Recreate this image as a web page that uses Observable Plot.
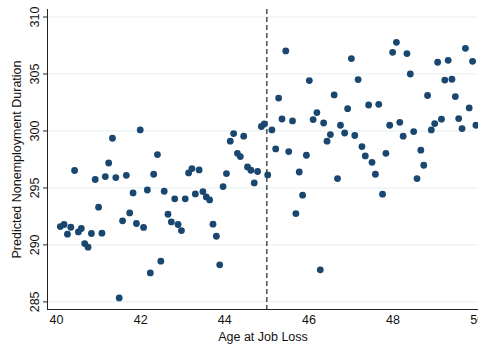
<!DOCTYPE html>
<html>
<head>
<meta charset="utf-8">
<script src="https://cdn.jsdelivr.net/npm/d3@7"></script>
<script src="https://cdn.jsdelivr.net/npm/@observablehq/plot@0.6"></script>
<style>
  html, body { margin: 0; padding: 0; background: #fff; overflow: hidden; }
  #chart { width: 478px; height: 347px; }
</style>
</head>
<body>
<div id="chart"></div>
<script>
const ages = [
  40.09, 40.18, 40.26, 40.34, 40.43, 40.52, 40.59, 40.67, 40.75, 40.83,
  40.92, 41.00, 41.08, 41.16, 41.24, 41.33, 41.41, 41.49, 41.57, 41.66,
  41.74, 41.82, 41.90, 41.99, 42.07, 42.16, 42.23, 42.31, 42.40, 42.48,
  42.56, 42.65, 42.73, 42.81, 42.89, 42.97, 43.06, 43.14, 43.22, 43.30,
  43.39, 43.48, 43.56, 43.64, 43.72, 43.80, 43.88, 43.96, 44.04, 44.13,
  44.21, 44.30, 44.37, 44.45, 44.54, 44.62, 44.70, 44.78, 44.87, 44.94,
  45.02, 45.12, 45.21, 45.28, 45.36, 45.45, 45.52, 45.61, 45.69, 45.77,
  45.85, 45.94, 46.01, 46.10, 46.19, 46.27, 46.35, 46.43, 46.51, 46.60,
  46.68, 46.75, 46.85, 46.92, 47.01, 47.09, 47.17, 47.26, 47.34, 47.42,
  47.50, 47.58, 47.66, 47.75, 47.83, 47.92, 47.99, 48.08, 48.16, 48.24,
  48.33, 48.41, 48.49, 48.57, 48.66, 48.73, 48.82, 48.91, 48.99, 49.06,
  49.15, 49.23, 49.31, 49.40, 49.48, 49.56, 49.64, 49.72, 49.81, 49.89,
  49.97
];
const durations = [
  291.61, 291.79, 290.94, 291.55, 296.53, 291.14, 291.44, 290.12, 289.80, 291.00,
  295.74, 293.31, 291.03, 296.00, 297.19, 299.36, 295.91, 285.35, 292.11, 296.11,
  292.81, 294.56, 291.88, 300.09, 291.53, 294.82, 287.54, 296.20, 297.93, 288.57,
  294.71, 292.69, 292.02, 294.04, 291.79, 291.26, 294.04, 296.32, 296.70, 294.47,
  296.58, 294.68, 294.21, 293.95, 291.82, 290.76, 288.25, 295.12, 296.26, 299.10,
  299.77, 298.04, 297.75, 299.54, 296.84, 296.55, 295.44, 296.44, 300.39, 300.61,
  296.14, 300.09, 298.42, 302.89, 301.05, 307.02, 298.19, 300.88, 292.75, 296.40,
  294.36, 297.87, 304.42, 301.00, 301.61, 287.81, 300.70, 299.10, 299.68, 303.16,
  295.82, 300.50, 299.82, 301.96, 306.35, 299.60, 304.51, 298.63, 297.81, 302.28,
  297.25, 296.20, 302.34, 294.45, 298.04, 300.50, 306.90, 307.78, 300.76, 299.54,
  306.79, 305.00, 299.95, 295.82, 298.31, 296.99, 303.11, 300.09, 300.65, 306.03,
  301.03, 304.47, 306.20, 304.54, 303.02, 301.09, 300.21, 307.25, 302.02, 306.11,
  300.50
];
const xTicks = [40, 42, 44, 46, 48, 50];
const yTicks = [285, 290, 295, 300, 305, 310];
const cutoffAge = [45];
const xTitle = "Age at Job Loss";
const yTitle = "Predicted Nonemployment Duration";

const data = ages.map((a, i) => ({age: a, dur: durations[i]}));
const xDomain = [39.786, 50.031];
const yDomain = [284.33, 310.66];

const chart = Plot.plot({
  width: 478,
  height: 347,
  marginLeft: 47,
  marginRight: 0,
  marginTop: 9,
  marginBottom: 38,
  style: {
    fontFamily: "'Liberation Sans', Arial, sans-serif",
    fontSize: "12.5px",
    background: "#fff",
    color: "#111",
    overflow: "hidden"
  },
  x: {domain: xDomain},
  y: {domain: yDomain},
  marks: [
    Plot.gridY(yTicks, {stroke: "#e6eef0", strokeOpacity: 1}),
    Plot.ruleX(cutoffAge, {stroke: "#222", strokeWidth: 1.2, strokeDasharray: "5,3"}),
    Plot.dot(data, {x: "age", y: "dur", r: 3.4, fill: "#1a476f", stroke: "none"}),
    Plot.axisY({
      ticks: yTicks, tickSize: 4, tickRotate: -90, tickPadding: 5,
      label: yTitle, labelAnchor: "center", labelArrow: "none", labelOffset: 35,
      stroke: "#222"
    }),
    Plot.axisX({
      ticks: xTicks, tickSize: 0, tickPadding: 6,
      label: xTitle, labelAnchor: "center", labelArrow: "none", labelOffset: 31
    }),
    Plot.ruleX([xDomain[0]], {stroke: "#222"}),
    Plot.ruleY([yDomain[0]], {stroke: "#222"})
  ]
});
document.getElementById("chart").appendChild(chart);
</script>
</body>
</html>
